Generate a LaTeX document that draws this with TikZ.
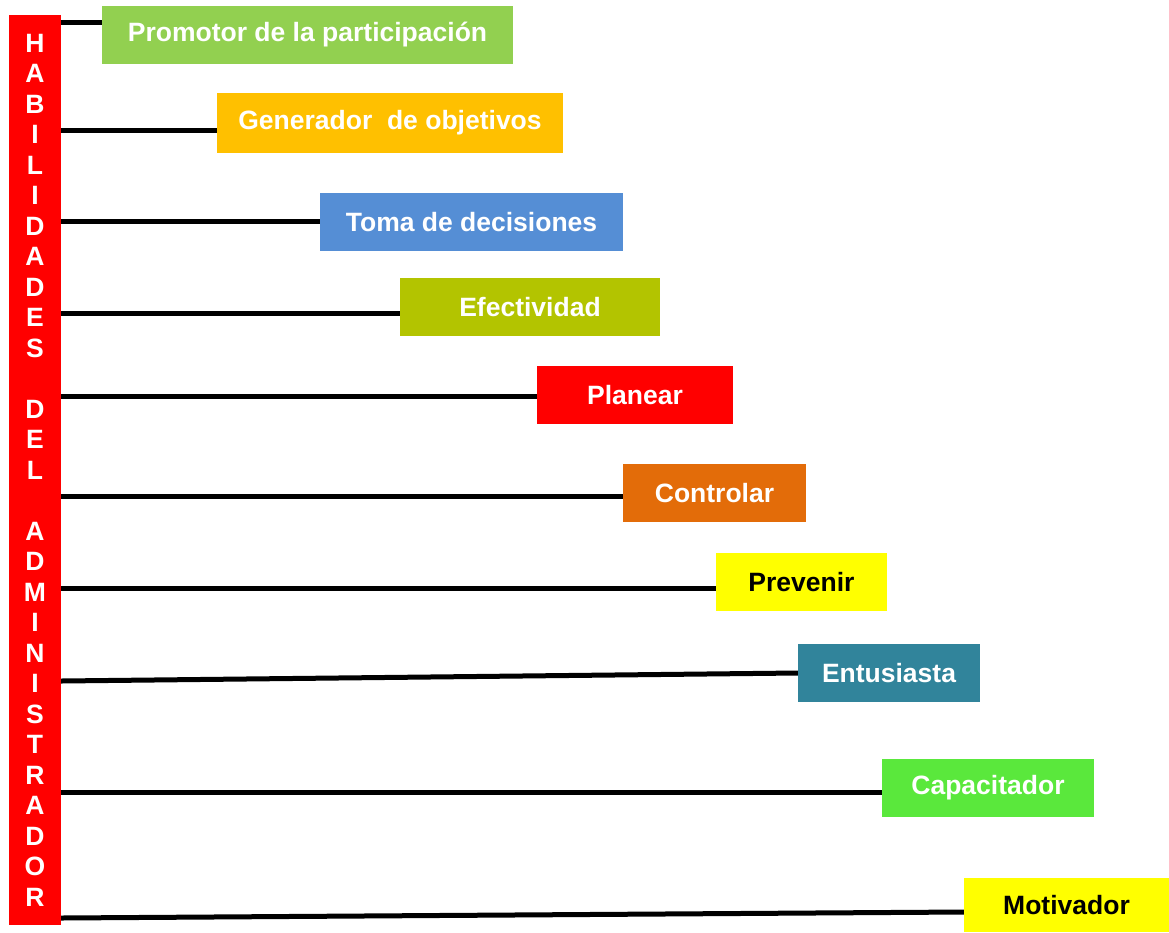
\documentclass[tikz,border=0pt]{standalone}
\usepackage{fontspec}
\setmainfont{Liberation Sans}
\usepackage{tikz}
\definecolor{rojo}{HTML}{FF0000}
\definecolor{verdeclaro}{HTML}{92D050}
\definecolor{naranja}{HTML}{FFC000}
\definecolor{azul}{HTML}{558ED5}
\definecolor{oliva}{HTML}{B3C400}
\definecolor{naranjaosc}{HTML}{E36C09}
\definecolor{amarillo}{HTML}{FFFF00}
\definecolor{verdeazul}{HTML}{31849B}
\definecolor{verdevivo}{HTML}{5AE83C}
\tikzstyle{barra}=[rectangle, fill=rojo, text=white, inner sep=0pt, align=center, minimum width=52pt, minimum height=910pt, font=\bfseries\fontsize{26.5}{30.5}\selectfont]
\tikzstyle{caja}=[rectangle, text=white, inner sep=0pt, minimum height=58pt, font=\bfseries\fontsize{26.5}{30.5}\selectfont]
\tikzstyle{enlace}=[line width=5pt, black]

\begin{document}
\begin{tikzpicture}[x=1pt, y=-1pt]
	\useasboundingbox (0,0) rectangle (1169,932);
	\node[barra] (hab) at (35,470) {H\\A\\B\\I\\L\\I\\D\\A\\D\\E\\S\\[30.5pt]D\\E\\L\\[30.5pt]A\\D\\M\\I\\N\\I\\S\\T\\R\\A\\D\\O\\R};
	\node[caja, fill=verdeclaro, minimum width=411pt] (promotor) at (307.5,35) {Promotor de la participación};
	\node[caja, fill=naranja, minimum width=346pt, minimum height=60pt] (generador) at (390,123) {Generador\ \ de objetivos};
	\node[caja, fill=azul, minimum width=303pt] (toma) at (471.5,222) {Toma de decisiones};
	\node[caja, fill=oliva, minimum width=260pt] (efectividad) at (530,307) {Efectividad};
	\node[caja, fill=rojo, minimum width=196pt] (planear) at (635,395) {Planear};
	\node[caja, fill=naranjaosc, minimum width=183pt] (controlar) at (714.5,493) {Controlar};
	\node[caja, fill=amarillo, text=black, minimum width=171pt] (prevenir) at (801.5,582) {Prevenir};
	\node[caja, fill=verdeazul, minimum width=182pt] (entusiasta) at (889,673) {Entusiasta};
	\node[caja, fill=verdevivo, minimum width=212pt] (capacitador) at (988,788) {Capacitador};
	\node[caja, fill=amarillo, text=black, minimum width=205pt, minimum height=54pt] (motivador) at (1066.5,905) {Motivador};
	\draw[enlace] (hab.east |- 0,22) -- (promotor.west |- 0,22);
	\draw[enlace] (hab.east |- 0,130) -- (generador.west |- 0,130);
	\draw[enlace] (hab.east |- 0,221) -- (toma.west |- 0,221);
	\draw[enlace] (hab.east |- 0,313) -- (efectividad.west |- 0,313);
	\draw[enlace] (hab.east |- 0,396) -- (planear.west |- 0,396);
	\draw[enlace] (hab.east |- 0,496) -- (controlar.west |- 0,496);
	\draw[enlace] (hab.east |- 0,588) -- (prevenir.west |- 0,588);
	\draw[enlace] (hab.east |- 0,681) -- (entusiasta.west);
	\draw[enlace] (hab.east |- 0,792) -- (capacitador.west |- 0,792);
	\draw[enlace] (hab.east |- 0,918) -- (motivador.west |- 0,912);
\end{tikzpicture}
\end{document}
